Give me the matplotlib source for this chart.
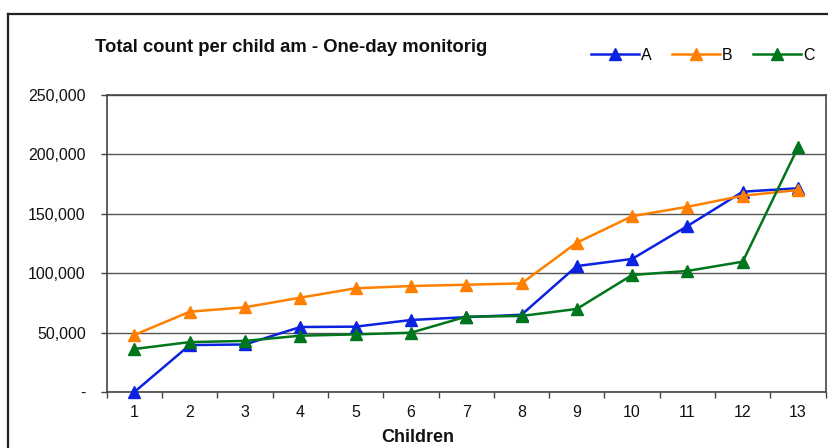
import matplotlib
matplotlib.use("Agg")
import matplotlib.pyplot as plt
from matplotlib.lines import Line2D
from matplotlib.ticker import FixedLocator

plt.rcParams['font.family'] = ['Liberation Sans', 'DejaVu Sans']

# Data
children = list(range(1, 14))
series_a = [0, 39500, 40000, 54700, 55000, 60600, 63000, 65000, 106000, 112000, 139700, 168600, 171500]
series_b = [48000, 67600, 71300, 79400, 87300, 89200, 90300, 91400, 125700, 148000, 155900, 165200, 170000]
series_c = [36200, 42000, 43000, 47400, 48500, 49900, 63400, 64000, 69900, 98500, 101900, 109700, 206000]
series_names = ['A', 'B', 'C']
y_ticks = [0, 50000, 100000, 150000, 200000, 250000]
y_tick_labels = ['-', '50,000', '100,000', '150,000', '200,000', '250,000']

colors = ['#0B22E0', '#FF7F00', '#00761C']

W, H = 829, 448
fig = plt.figure(figsize=(W / 100, H / 100), dpi=100)
fig.patch.set_facecolor('white')

# Outer chart frame
frame_col = '#222222'
fig.add_artist(Line2D([8.5 / W, 8.5 / W], [0, 1 - 14 / H], transform=fig.transFigure,
                      color=frame_col, lw=1.6))
fig.add_artist(Line2D([8.5 / W, 1], [1 - 14 / H, 1 - 14 / H], transform=fig.transFigure,
                      color=frame_col, lw=1.6))

left, right, bottom, top = 106.7, 825.7, 392, 95
ax = fig.add_axes([left / W, 1 - bottom / H, (right - left) / W, (bottom - top) / H])

for vals, name, col in zip([series_a, series_b, series_c], series_names, colors):
    ax.plot(children, vals, color=col, lw=1.8, marker='^', markersize=8,
            markeredgecolor=col, markerfacecolor=col, label=name, clip_on=False, zorder=3)

ax.set_xlim(0.5, 13.5)
ax.set_ylim(0, 250000)
ax.set_yticks(y_ticks)
ax.set_yticklabels(y_tick_labels)
ax.set_xticks(children)
ax.set_xticklabels([str(c) for c in children])
ax.xaxis.set_minor_locator(FixedLocator([c + 0.5 for c in range(0, 14)]))
ax.tick_params(axis='x', which='major', length=0, pad=9, labelsize=11.5, colors='#111111')
ax.tick_params(axis='x', which='minor', length=4, width=1, color='#444444')
ax.tick_params(axis='y', length=4, width=1, color='#444444', pad=11, labelsize=11.5,
               labelcolor='#111111')

ax.grid(axis='y', color='#555555', lw=1.0)
ax.set_axisbelow(True)
for s in ax.spines.values():
    s.set_color('#444444')
    s.set_linewidth(1.2)

fig.text(95 / W, 1 - 47 / H, 'Total count per child am - One-day monitorig',
         fontsize=13.3, fontweight='bold', ha='left', va='center', color='#111111')
fig.text(418 / W, 1 - 437 / H, 'Children', fontsize=13, fontweight='bold',
         ha='center', va='center', color='#111111')

fig.legend(loc='center left', bbox_to_anchor=(591 / W, 1 - 55 / H), ncol=3, frameon=False,
           fontsize=11.5, handlelength=3.0, handletextpad=0.15, columnspacing=1.25,
           borderpad=0, borderaxespad=0, markerscale=1.0)

fig.savefig('out.png', dpi=100, facecolor='white')
